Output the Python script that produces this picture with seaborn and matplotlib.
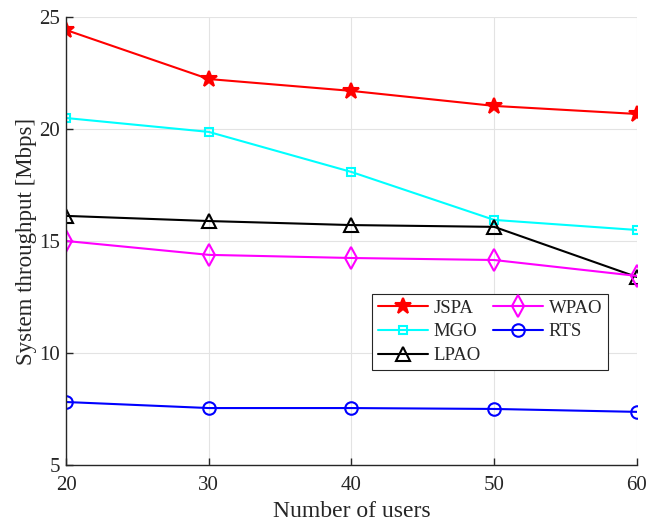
import matplotlib
matplotlib.use("Agg")
import matplotlib.pyplot as plt
import seaborn as sns
import pandas as pd

users = [20, 30, 40, 50, 60]
jspa = [24.42, 22.23, 21.70, 21.03, 20.67]
mgo = [20.49, 19.87, 18.08, 15.94, 15.49]
lpao = [16.12, 15.89, 15.71, 15.63, 13.39]
wpao = [15.00, 14.38, 14.24, 14.15, 13.44]
rts = [7.81, 7.54, 7.54, 7.50, 7.37]

series_names = ["JSPA", "MGO", "LPAO", "WPAO", "RTS"]
series_values = [jspa, mgo, lpao, wpao, rts]

sns.set_theme(style="whitegrid")
plt.rcParams["font.family"] = ["Liberation Serif", "DejaVu Serif"]

rows = []
for name, vals in zip(series_names, series_values):
    for u, v in zip(users, vals):
        rows.append({"users": u, "throughput": v, "scheme": name})
df = pd.DataFrame(rows)

styles = {
    "JSPA": dict(color="#ff0000", marker="*", ms=12, mfc="#ff0000"),
    "MGO": dict(color="#00ffff", marker="s", ms=6, mfc="none"),
    "LPAO": dict(color="#000000", marker="^", ms=9.5, mfc="none"),
    "WPAO": dict(color="#ff00ff", marker="d", ms=11, mfc="none"),
    "RTS": dict(color="#0000ff", marker="o", ms=9, mfc="none"),
}

fig = plt.figure(figsize=(6.57, 5.23), dpi=100)
ax = fig.add_axes([0.1005, 0.111, 0.869, 0.8565])

for name in series_names:
    st = styles[name]
    sub = df[df["scheme"] == name]
    sns.lineplot(data=sub, x="users", y="throughput", ax=ax, color=st["color"],
                 linewidth=1.5, marker=st["marker"], markersize=st["ms"],
                 markerfacecolor=st["mfc"], markeredgecolor=st["color"],
                 markeredgewidth=1.5, label=name)

ax.set_xlim(20, 60)
ax.set_ylim(5, 25)
ax.set_xticks(users)
ax.set_yticks([5, 10, 15, 20, 25])
ax.set_facecolor("white")
ax.grid(True, color="#e3e3e3", linewidth=0.8)
for side in ["top", "right"]:
    ax.spines[side].set_visible(False)
for side in ["left", "bottom"]:
    ax.spines[side].set_color("#262626")
    ax.spines[side].set_linewidth(1.0)
ax.tick_params(axis="both", labelsize=15, colors="#262626", direction="in",
               length=5, width=1.0)
ax.tick_params(axis="both", left=True, bottom=True)
ax.tick_params(axis="x", pad=8)
ax.tick_params(axis="y", pad=4.5)
ax.set_xlabel("Number of users", fontsize=17, color="#262626", labelpad=4.5)
ax.set_ylabel("System throughput [Mbps]", fontsize=16.5, color="#262626", labelpad=1.5)

leg = ax.legend(ncol=2, loc="upper left", bbox_to_anchor=(0.536, 0.382),
                fontsize=13.5, frameon=True, fancybox=False, handlelength=2.7,
                handletextpad=0.27, columnspacing=0.65, labelspacing=0.36,
                borderpad=0.3, borderaxespad=0)
leg.get_frame().set_edgecolor("#262626")
leg.get_frame().set_linewidth(0.8)
leg.get_frame().set_alpha(1)

fig.savefig("out.png", dpi=100, facecolor="white")
